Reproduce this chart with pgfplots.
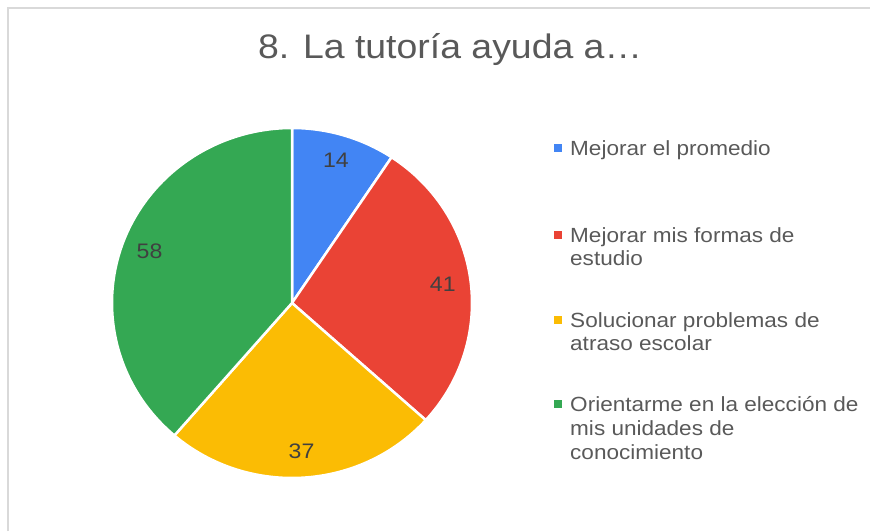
\documentclass[border=0pt]{standalone}
\usepackage{pgfplots}
\pgfplotsset{compat=1.18}
\usepackage{pgfplotstable}
\usepackage{fontspec}
\setmainfont{Liberation Sans}[FakeStretch=1.1]
\definecolor{pieBlue}{HTML}{4285F4}
\definecolor{pieRed}{HTML}{EA4335}
\definecolor{pieYellow}{HTML}{FBBC04}
\definecolor{pieGreen}{HTML}{34A853}
\definecolor{txtGray}{HTML}{595959}
\definecolor{lblGray}{HTML}{404040}
\definecolor{frameGray}{HTML}{D9D9D9}

\pgfplotstableread{
label value
a 14
b 41
c 37
d 58
}\piedata

\begin{document}
\begin{tikzpicture}[x=1pt,y=1pt]
\useasboundingbox (0,0) rectangle (877,531);
% frame
\draw[frameGray, line width=2pt] (8,0) -- (8,523) -- (870,523);
% title
\node[anchor=base, text=txtGray, font=\fontsize{34}{40}\selectfont] at (450,472) {8. La tutoría ayuda a…};

\pgfplotstablegetelem{0}{value}\of\piedata \let\vA\pgfplotsretval
\pgfplotstablegetelem{1}{value}\of\piedata \let\vB\pgfplotsretval
\pgfplotstablegetelem{2}{value}\of\piedata \let\vC\pgfplotsretval
\pgfplotstablegetelem{3}{value}\of\piedata \let\vD\pgfplotsretval
\pgfmathsetmacro\total{\vA+\vB+\vC+\vD}
\pgfmathsetmacro\unitang{360/\total}
\pgfmathsetmacro\sA{90}
\pgfmathsetmacro\eA{\sA-\unitang*\vA}
\pgfmathsetmacro\eB{\eA-\unitang*\vB}
\pgfmathsetmacro\eC{\eB-\unitang*\vC}
\pgfmathsetmacro\eD{\eC-\unitang*\vD}
\pgfmathsetmacro\mA{(\sA+\eA)/2}
\pgfmathsetmacro\mB{(\eA+\eB)/2}
\pgfmathsetmacro\mC{(\eB+\eC)/2}
\pgfmathsetmacro\mD{(\eC+\eD)/2}

\begin{axis}[hide axis, x=1pt, y=1pt, xmin=-200, xmax=200, ymin=-200, ymax=200,
  at={(292,228)}, anchor=origin, clip=false]
\addplot[draw=none] coordinates {(0,0)};
\fill[pieBlue, draw=white, line width=2.5pt, line join=round] (axis cs:0,0) -- ++(\sA:180pt and 175pt) arc[start angle=\sA, end angle=\eA, x radius=180pt, y radius=175pt] -- cycle;
\fill[pieRed, draw=white, line width=2.5pt, line join=round] (axis cs:0,0) -- ++(\eA:180pt and 175pt) arc[start angle=\eA, end angle=\eB, x radius=180pt, y radius=175pt] -- cycle;
\fill[pieYellow, draw=white, line width=2.5pt, line join=round] (axis cs:0,0) -- ++(\eB:180pt and 175pt) arc[start angle=\eB, end angle=\eC, x radius=180pt, y radius=175pt] -- cycle;
\fill[pieGreen, draw=white, line width=2.5pt, line join=round] (axis cs:0,0) -- ++(\eC:180pt and 175pt) arc[start angle=\eC, end angle=\eD, x radius=180pt, y radius=175pt] -- cycle;
\path (axis cs:0,0) ++(\mA:152pt and 149pt) node[text=lblGray, font=\fontsize{21}{24}\selectfont] {\vA};
\path (axis cs:0,0) ++(\mB:152pt and 149pt) node[text=lblGray, font=\fontsize{21}{24}\selectfont] {\vB};
\path (axis cs:0,0) ++(\mC:152pt and 149pt) node[text=lblGray, font=\fontsize{21}{24}\selectfont] {\vC};
\path (axis cs:0,0) ++(\mD:152pt and 149pt) node[text=lblGray, font=\fontsize{21}{24}\selectfont] {\vD};
\end{axis}

% legend
\tikzset{lg/.style={anchor=base west, text=txtGray, font=\fontsize{20.5}{24}\selectfont, inner sep=0pt}}
\fill[pieBlue]   (554,378.5) rectangle (562,386.5);
\node[lg] at (570,375) {Mejorar el promedio};
\fill[pieRed]    (554,292.5) rectangle (562,300.5);
\node[lg] at (570,289) {Mejorar mis formas de};
\node[lg] at (570,265.5) {estudio};
\fill[pieYellow] (554,207.5) rectangle (562,215.5);
\node[lg] at (570,204) {Solucionar problemas de};
\node[lg] at (570,180.5) {atraso escolar};
\fill[pieGreen]  (554,123) rectangle (562,131);
\node[lg] at (570,119.5) {Orientarme en la elección de};
\node[lg] at (570,96) {mis unidades de};
\node[lg] at (570,72) {conocimiento};
\end{tikzpicture}
\end{document}
